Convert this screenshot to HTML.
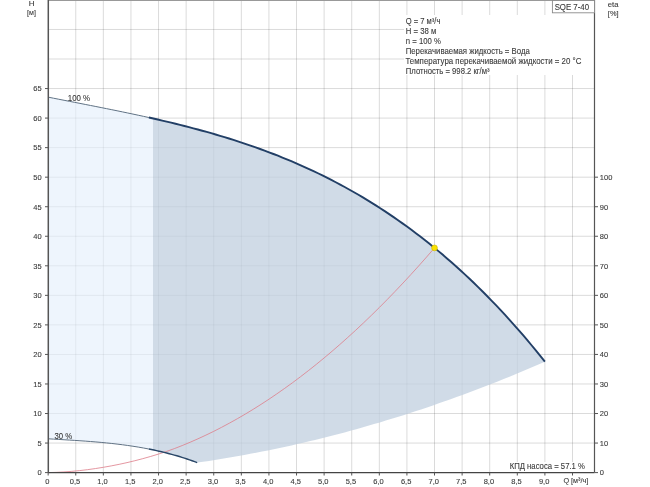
<!DOCTYPE html>
<html><head><meta charset="utf-8"><style>
html,body{margin:0;padding:0;background:#fff;}
body{width:650px;height:487px;overflow:hidden;position:relative;}
svg{position:absolute;left:0;top:0;will-change:transform;}
text{font-family:"Liberation Sans",sans-serif;font-size:7.5px;fill:#333;stroke:#333;stroke-width:0.1px;}
.t2{font-size:8.4px;}
.txt{opacity:0.97;}
.g line{stroke:#000;stroke-opacity:0.145;stroke-width:1;}
.tk line{stroke:#555;stroke-width:1;}
</style></head><body>
<svg width="650" height="487" viewBox="0 0 650 487">
<g class="g">
<line x1="75.75" y1="0" x2="75.75" y2="472.6"/>
<line x1="103.34" y1="0" x2="103.34" y2="472.6"/>
<line x1="130.94" y1="0" x2="130.94" y2="472.6"/>
<line x1="158.54" y1="0" x2="158.54" y2="472.6"/>
<line x1="186.14" y1="0" x2="186.14" y2="472.6"/>
<line x1="213.74" y1="0" x2="213.74" y2="472.6"/>
<line x1="241.33" y1="0" x2="241.33" y2="472.6"/>
<line x1="268.93" y1="0" x2="268.93" y2="472.6"/>
<line x1="296.53" y1="0" x2="296.53" y2="472.6"/>
<line x1="324.12" y1="0" x2="324.12" y2="472.6"/>
<line x1="351.72" y1="0" x2="351.72" y2="472.6"/>
<line x1="379.32" y1="0" x2="379.32" y2="472.6"/>
<line x1="406.92" y1="0" x2="406.92" y2="472.6"/>
<line x1="434.51" y1="0" x2="434.51" y2="472.6"/>
<line x1="462.11" y1="0" x2="462.11" y2="472.6"/>
<line x1="489.71" y1="0" x2="489.71" y2="472.6"/>
<line x1="517.31" y1="0" x2="517.31" y2="472.6"/>
<line x1="544.90" y1="0" x2="544.90" y2="472.6"/>
<line x1="572.50" y1="0" x2="572.50" y2="472.6"/>
<line x1="48.15" y1="443.06" x2="594.5" y2="443.06"/>
<line x1="48.15" y1="413.52" x2="594.5" y2="413.52"/>
<line x1="48.15" y1="383.97" x2="594.5" y2="383.97"/>
<line x1="48.15" y1="354.43" x2="594.5" y2="354.43"/>
<line x1="48.15" y1="324.89" x2="594.5" y2="324.89"/>
<line x1="48.15" y1="295.35" x2="594.5" y2="295.35"/>
<line x1="48.15" y1="265.80" x2="594.5" y2="265.80"/>
<line x1="48.15" y1="236.26" x2="594.5" y2="236.26"/>
<line x1="48.15" y1="206.72" x2="594.5" y2="206.72"/>
<line x1="48.15" y1="177.18" x2="594.5" y2="177.18"/>
<line x1="48.15" y1="147.63" x2="594.5" y2="147.63"/>
<line x1="48.15" y1="118.09" x2="594.5" y2="118.09"/>
<line x1="48.15" y1="88.55" x2="594.5" y2="88.55"/>
<line x1="48.15" y1="59.00" x2="594.5" y2="59.00"/>
<line x1="48.15" y1="29.46" x2="594.5" y2="29.46"/>
</g>
<path d="M48.15,97.15 51.77,97.86 55.38,98.58 59.00,99.29 62.61,100.00 66.23,100.71 69.85,101.41 73.46,102.12 77.08,102.83 80.70,103.53 84.31,104.24 87.93,104.95 91.54,105.66 95.16,106.38 98.78,107.09 102.39,107.81 106.01,108.53 109.63,109.26 113.24,109.99 116.86,110.73 120.47,111.47 124.09,112.22 127.71,112.97 131.32,113.74 134.94,114.50 138.56,115.28 142.17,116.06 145.79,116.86 149.40,117.66 153.02,118.47 L153.02,449.86 149.40,449.12 145.79,448.42 142.17,447.76 138.56,447.14 134.94,446.55 131.32,445.99 127.71,445.46 124.09,444.96 120.47,444.50 116.86,444.06 113.24,443.64 109.63,443.25 106.01,442.88 102.39,442.53 98.78,442.20 95.16,441.89 91.54,441.60 87.93,441.32 84.31,441.06 80.70,440.80 77.08,440.56 73.46,440.33 69.85,440.10 66.23,439.88 62.61,439.66 59.00,439.45 55.38,439.24 51.77,439.02 48.15,438.81Z" fill="rgb(227,238,252)" fill-opacity="0.6"/>
<path d="M153.02,118.47 157.42,119.47 161.83,120.49 166.23,121.52 170.63,122.57 175.04,123.64 179.44,124.73 183.84,125.84 188.25,126.97 192.65,128.12 197.05,129.29 201.46,130.48 205.86,131.70 210.26,132.94 214.67,134.21 219.07,135.51 223.47,136.83 227.87,138.18 232.28,139.56 236.68,140.96 241.08,142.40 245.49,143.87 249.89,145.37 254.29,146.91 258.70,148.47 263.10,150.08 267.50,151.71 271.91,153.39 276.31,155.10 280.71,156.85 285.12,158.63 289.52,160.46 293.92,162.32 298.33,164.23 302.73,166.18 307.13,168.17 311.54,170.21 315.94,172.29 320.34,174.41 324.75,176.58 329.15,178.80 333.55,181.06 337.95,183.37 342.36,185.74 346.76,188.15 351.16,190.61 355.57,193.12 359.97,195.69 364.37,198.31 368.78,200.98 373.18,203.71 377.58,206.50 381.99,209.34 386.39,212.24 390.79,215.19 395.20,218.21 399.60,221.29 404.00,224.42 408.41,227.62 412.81,230.88 417.21,234.20 421.62,237.59 426.02,241.04 430.42,244.56 434.83,248.14 439.23,251.79 443.63,255.51 448.03,259.30 452.44,263.15 456.84,267.08 461.24,271.08 465.65,275.15 470.05,279.30 474.45,283.51 478.86,287.81 483.26,292.17 487.66,296.62 492.07,301.14 496.47,305.73 500.87,310.41 505.28,315.17 509.68,320.00 514.08,324.92 518.49,329.92 522.89,335.00 527.29,340.17 531.70,345.42 536.10,350.76 540.50,356.18 544.90,361.69 L544.90,361.69 539.01,364.25 533.12,366.79 527.22,369.29 521.33,371.77 515.44,374.22 509.54,376.64 503.65,379.03 497.76,381.39 491.86,383.72 485.97,386.02 480.07,388.29 474.18,390.53 468.29,392.74 462.39,394.93 456.50,397.08 450.61,399.20 444.71,401.30 438.82,403.36 432.92,405.40 427.03,407.40 421.14,409.38 415.24,411.32 409.35,413.24 403.46,415.13 397.56,416.99 391.67,418.82 385.78,420.61 379.88,422.38 373.99,424.12 368.09,425.84 362.20,427.52 356.31,429.17 350.41,430.79 344.52,432.38 338.63,433.95 332.73,435.48 326.84,436.98 320.94,438.46 315.05,439.90 309.16,441.32 303.26,442.71 297.37,444.06 291.48,445.39 285.58,446.69 279.69,447.96 273.79,449.20 267.90,450.41 262.01,451.59 256.11,452.74 250.22,453.86 244.33,454.95 238.43,456.01 232.54,457.04 226.65,458.05 220.75,459.02 214.86,459.96 208.96,460.88 203.07,461.76 197.18,462.62 L197.18,462.62 194.02,461.45 190.87,460.32 187.71,459.24 184.56,458.19 181.41,457.19 178.25,456.23 175.10,455.31 171.94,454.43 168.79,453.58 165.64,452.77 162.48,451.99 159.33,451.25 156.17,450.54 153.02,449.86Z" fill="rgb(192,207,223)" fill-opacity="0.75"/>
<polyline points="48.15,472.60 56.03,472.36 63.92,471.94 71.80,471.35 79.69,470.59 87.57,469.66 95.46,468.56 103.34,467.31 111.23,465.90 119.11,464.33 127.00,462.61 134.88,460.72 142.77,458.67 150.66,456.45 158.54,454.06 166.42,451.48 174.31,448.64 182.19,445.55 190.08,442.28 197.96,438.81 205.85,435.16 213.74,431.33 221.62,427.30 229.50,423.09 237.39,418.69 245.28,414.11 253.16,409.33 261.04,404.37 268.93,399.22 276.81,393.89 284.70,388.37 292.58,382.66 300.47,376.76 308.35,370.68 316.24,364.41 324.12,357.95 332.01,351.31 339.89,344.47 347.78,337.45 355.66,330.25 363.55,322.85 371.43,315.27 379.32,307.50 387.20,299.55 395.09,291.41 402.97,283.08 410.86,274.56 418.74,265.86 426.63,256.97 434.51,247.89" fill="none" stroke="#dd7d89" stroke-width="1" stroke-opacity="0.8"/>
<rect x="404" y="15" width="190.5" height="60" fill="#fff"/>
<rect x="552" y="12" width="42.5" height="4" fill="#fff"/>
<rect x="508" y="462" width="82" height="10.5" fill="#fff"/>
<polyline points="48.15,97.15 53.45,98.20 58.75,99.24 64.05,100.28 69.36,101.32 74.66,102.35 79.96,103.39 85.26,104.43 90.56,105.47 95.86,106.51 101.17,107.57 106.47,108.63 111.77,109.69 117.07,110.77 122.37,111.86 127.67,112.97 132.98,114.09 138.28,115.22 143.58,116.37 148.88,117.54" fill="none" stroke="#607284" stroke-width="1"/>
<polyline points="148.88,117.54 153.33,118.54 157.78,119.55 162.23,120.58 166.68,121.63 171.13,122.69 175.58,123.78 180.03,124.88 184.48,126.00 188.93,127.14 193.38,128.31 197.83,129.50 202.28,130.71 206.73,131.94 211.18,133.20 215.63,134.49 220.08,135.81 224.53,137.15 228.98,138.52 233.43,139.92 237.88,141.35 242.32,142.81 246.77,144.31 251.22,145.83 255.67,147.39 260.12,148.99 264.57,150.62 269.02,152.29 273.47,153.99 277.92,155.73 282.37,157.51 286.82,159.33 291.27,161.20 295.72,163.10 300.17,165.04 304.62,167.03 309.07,169.06 313.52,171.14 317.97,173.26 322.42,175.43 326.87,177.64 331.32,179.91 335.77,182.22 340.22,184.58 344.67,186.99 349.12,189.46 353.57,191.98 358.02,194.55 362.47,197.17 366.92,199.85 371.37,202.58 375.82,205.37 380.27,208.22 384.72,211.13 389.17,214.09 393.61,217.12 398.06,220.21 402.51,223.36 406.96,226.57 411.41,229.84 415.86,233.18 420.31,236.58 424.76,240.05 429.21,243.59 433.66,247.19 438.11,250.86 442.56,254.60 447.01,258.41 451.46,262.29 455.91,266.25 460.36,270.27 464.81,274.37 469.26,278.55 473.71,282.80 478.16,287.12 482.61,291.52 487.06,296.00 491.51,300.56 495.96,305.20 500.41,309.91 504.86,314.71 509.31,319.59 513.76,324.56 518.21,329.60 522.66,334.73 527.11,339.95 531.56,345.25 536.01,350.64 540.46,356.12 544.90,361.69" fill="none" stroke="#223f66" stroke-width="1.9"/>
<polyline points="48.15,438.81 53.45,439.12 58.75,439.43 64.05,439.75 69.36,440.07 74.66,440.40 79.96,440.75 85.26,441.12 90.56,441.52 95.86,441.95 101.17,442.42 106.47,442.93 111.77,443.48 117.07,444.08 122.37,444.74 127.67,445.46 132.98,446.24 138.28,447.09 143.58,448.02 148.88,449.02" fill="none" stroke="#607284" stroke-width="1"/>
<polyline points="148.88,449.02 151.42,449.53 153.96,450.06 156.51,450.61 159.05,451.19 161.59,451.78 164.13,452.39 166.67,453.03 169.22,453.69 171.76,454.38 174.30,455.08 176.84,455.82 179.38,456.57 181.93,457.36 184.47,458.16 187.01,459.00 189.55,459.86 192.09,460.75 194.63,461.67 197.18,462.62" fill="none" stroke="#2a4768" stroke-width="1.45"/>
<circle cx="434.51" cy="247.89" r="2.9" fill="#fae100" stroke="#c9b400" stroke-width="0.6"/>
<line x1="48.15" y1="0.5" x2="594.5" y2="0.5" stroke="#999" stroke-width="1"/>
<line x1="48.3" y1="0" x2="48.3" y2="472.6" stroke="#555" stroke-width="1.5"/>
<line x1="594.5" y1="0" x2="594.5" y2="472.6" stroke="#555" stroke-width="1.2"/>
<line x1="48.15" y1="472.6" x2="594.5" y2="472.6" stroke="#444" stroke-width="1.2"/>
<g class="tk">
<line x1="45" y1="472.60" x2="48.15" y2="472.60"/>
<line x1="45" y1="443.06" x2="48.15" y2="443.06"/>
<line x1="45" y1="413.52" x2="48.15" y2="413.52"/>
<line x1="45" y1="383.97" x2="48.15" y2="383.97"/>
<line x1="45" y1="354.43" x2="48.15" y2="354.43"/>
<line x1="45" y1="324.89" x2="48.15" y2="324.89"/>
<line x1="45" y1="295.35" x2="48.15" y2="295.35"/>
<line x1="45" y1="265.80" x2="48.15" y2="265.80"/>
<line x1="45" y1="236.26" x2="48.15" y2="236.26"/>
<line x1="45" y1="206.72" x2="48.15" y2="206.72"/>
<line x1="45" y1="177.18" x2="48.15" y2="177.18"/>
<line x1="45" y1="147.63" x2="48.15" y2="147.63"/>
<line x1="45" y1="118.09" x2="48.15" y2="118.09"/>
<line x1="45" y1="88.55" x2="48.15" y2="88.55"/>
<line x1="594.5" y1="472.60" x2="598" y2="472.60"/>
<line x1="594.5" y1="443.06" x2="598" y2="443.06"/>
<line x1="594.5" y1="413.52" x2="598" y2="413.52"/>
<line x1="594.5" y1="383.97" x2="598" y2="383.97"/>
<line x1="594.5" y1="354.43" x2="598" y2="354.43"/>
<line x1="594.5" y1="324.89" x2="598" y2="324.89"/>
<line x1="594.5" y1="295.35" x2="598" y2="295.35"/>
<line x1="594.5" y1="265.80" x2="598" y2="265.80"/>
<line x1="594.5" y1="236.26" x2="598" y2="236.26"/>
<line x1="594.5" y1="206.72" x2="598" y2="206.72"/>
<line x1="594.5" y1="177.18" x2="598" y2="177.18"/>
<line x1="48.15" y1="472.6" x2="48.15" y2="475.5"/>
<line x1="75.75" y1="472.6" x2="75.75" y2="475.5"/>
<line x1="103.34" y1="472.6" x2="103.34" y2="475.5"/>
<line x1="130.94" y1="472.6" x2="130.94" y2="475.5"/>
<line x1="158.54" y1="472.6" x2="158.54" y2="475.5"/>
<line x1="186.14" y1="472.6" x2="186.14" y2="475.5"/>
<line x1="213.74" y1="472.6" x2="213.74" y2="475.5"/>
<line x1="241.33" y1="472.6" x2="241.33" y2="475.5"/>
<line x1="268.93" y1="472.6" x2="268.93" y2="475.5"/>
<line x1="296.53" y1="472.6" x2="296.53" y2="475.5"/>
<line x1="324.12" y1="472.6" x2="324.12" y2="475.5"/>
<line x1="351.72" y1="472.6" x2="351.72" y2="475.5"/>
<line x1="379.32" y1="472.6" x2="379.32" y2="475.5"/>
<line x1="406.92" y1="472.6" x2="406.92" y2="475.5"/>
<line x1="434.51" y1="472.6" x2="434.51" y2="475.5"/>
<line x1="462.11" y1="472.6" x2="462.11" y2="475.5"/>
<line x1="489.71" y1="472.6" x2="489.71" y2="475.5"/>
<line x1="517.31" y1="472.6" x2="517.31" y2="475.5"/>
<line x1="544.90" y1="472.6" x2="544.90" y2="475.5"/>
<line x1="572.50" y1="472.6" x2="572.50" y2="475.5"/>
</g>
<rect x="552.4" y="0.5" width="42.1" height="12.3" fill="#fff" stroke="#8a8a8a" stroke-width="0.9"/>
<g class="txt">
<text x="41.6" y="475.40" text-anchor="end">0</text>
<text x="41.6" y="445.86" text-anchor="end">5</text>
<text x="41.6" y="416.32" text-anchor="end">10</text>
<text x="41.6" y="386.77" text-anchor="end">15</text>
<text x="41.6" y="357.23" text-anchor="end">20</text>
<text x="41.6" y="327.69" text-anchor="end">25</text>
<text x="41.6" y="298.15" text-anchor="end">30</text>
<text x="41.6" y="268.60" text-anchor="end">35</text>
<text x="41.6" y="239.06" text-anchor="end">40</text>
<text x="41.6" y="209.52" text-anchor="end">45</text>
<text x="41.6" y="179.98" text-anchor="end">50</text>
<text x="41.6" y="150.43" text-anchor="end">55</text>
<text x="41.6" y="120.89" text-anchor="end">60</text>
<text x="41.6" y="91.35" text-anchor="end">65</text>
<text x="599.8" y="475.40">0</text>
<text x="599.8" y="445.86">10</text>
<text x="599.8" y="416.32">20</text>
<text x="599.8" y="386.77">30</text>
<text x="599.8" y="357.23">40</text>
<text x="599.8" y="327.69">50</text>
<text x="599.8" y="298.15">60</text>
<text x="599.8" y="268.60">70</text>
<text x="599.8" y="239.06">80</text>
<text x="599.8" y="209.52">90</text>
<text x="599.8" y="179.98">100</text>
<text x="47.35" y="484.2" text-anchor="middle">0</text>
<text x="74.95" y="484.2" text-anchor="middle">0,5</text>
<text x="102.55" y="484.2" text-anchor="middle">1,0</text>
<text x="130.14" y="484.2" text-anchor="middle">1,5</text>
<text x="157.74" y="484.2" text-anchor="middle">2,0</text>
<text x="185.34" y="484.2" text-anchor="middle">2,5</text>
<text x="212.94" y="484.2" text-anchor="middle">3,0</text>
<text x="240.53" y="484.2" text-anchor="middle">3,5</text>
<text x="268.13" y="484.2" text-anchor="middle">4,0</text>
<text x="295.73" y="484.2" text-anchor="middle">4,5</text>
<text x="323.32" y="484.2" text-anchor="middle">5,0</text>
<text x="350.92" y="484.2" text-anchor="middle">5,5</text>
<text x="378.52" y="484.2" text-anchor="middle">6,0</text>
<text x="406.12" y="484.2" text-anchor="middle">6,5</text>
<text x="433.71" y="484.2" text-anchor="middle">7,0</text>
<text x="461.31" y="484.2" text-anchor="middle">7,5</text>
<text x="488.91" y="484.2" text-anchor="middle">8,0</text>
<text x="516.51" y="484.2" text-anchor="middle">8,5</text>
<text x="544.11" y="484.2" text-anchor="middle">9,0</text>
<text x="28.65" y="6.0" textLength="5.80" lengthAdjust="spacingAndGlyphs" class="t1">H</text>
<text x="27.05" y="15.3" textLength="8.80" lengthAdjust="spacingAndGlyphs" class="t1">[м]</text>
<text x="607.85" y="6.6" textLength="10.70" lengthAdjust="spacingAndGlyphs" class="t1">eta</text>
<text x="607.85" y="15.5" textLength="10.70" lengthAdjust="spacingAndGlyphs" class="t1">[%]</text>
<text x="554.65" y="9.9" textLength="34.40" lengthAdjust="spacingAndGlyphs" class="t2">SQE 7-40</text>
<text x="405.65" y="23.6" textLength="34.70" lengthAdjust="spacingAndGlyphs" class="t2">Q = 7 м³/ч</text>
<text x="405.85" y="33.6" textLength="30.50" lengthAdjust="spacingAndGlyphs" class="t2">H = 38 м</text>
<text x="405.85" y="43.6" textLength="35.10" lengthAdjust="spacingAndGlyphs" class="t2">n = 100 %</text>
<text x="405.65" y="53.6" textLength="124.20" lengthAdjust="spacingAndGlyphs" class="t2">Перекачиваемая жидкость = Вода</text>
<text x="405.45" y="63.7" textLength="175.90" lengthAdjust="spacingAndGlyphs" class="t2">Температура перекачиваемой жидкости = 20 °C</text>
<text x="405.85" y="73.5" textLength="83.70" lengthAdjust="spacingAndGlyphs" class="t2">Плотность = 998.2 кг/м³</text>
<text x="67.75" y="100.9" textLength="22.40" lengthAdjust="spacingAndGlyphs" class="t2">100 %</text>
<text x="54.45" y="439.0" textLength="17.70" lengthAdjust="spacingAndGlyphs" class="t2">30 %</text>
<text x="509.65" y="469.2" textLength="75.30" lengthAdjust="spacingAndGlyphs" class="t2">КПД насоса = 57.1 %</text>
<text x="563.45" y="483.2" textLength="24.90" lengthAdjust="spacingAndGlyphs" class="t1">Q [м³/ч]</text>
</g>
</svg>
</body></html>
